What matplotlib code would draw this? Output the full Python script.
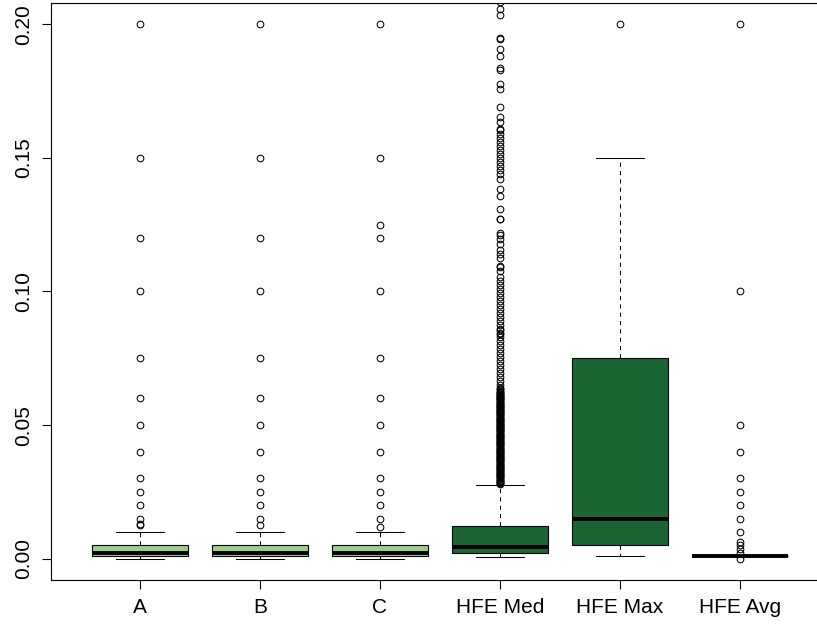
import matplotlib
matplotlib.use("Agg")
import matplotlib.pyplot as plt

plt.rcParams["font.family"] = ["Liberation Sans", "DejaVu Sans"]

# group names and their fill colours
labels = ["A", "B", "C", "HFE Med", "HFE Max", "HFE Avg"]
fills = ["#9fd08a", "#9fd08a", "#9fd08a", "#1b6535", "#1b6535", "#1b6535"]

# five-number summaries per group
whislo = [0.0, 0.0, 0.0, 0.0005, 0.001, 0.001]
q1 = [0.0008, 0.0008, 0.0008, 0.0021, 0.005, 0.001]
med = [0.002, 0.002, 0.002, 0.0044, 0.015, 0.001]
q3 = [0.005, 0.005, 0.005, 0.0124, 0.075, 0.001]
whishi = [0.01, 0.01, 0.01, 0.0275, 0.15, 0.001]

# outliers per group
out_a = [0.2, 0.15, 0.12, 0.1, 0.075, 0.06, 0.05, 0.04, 0.03, 0.025, 0.02,
         0.015, 0.013, 0.0125]
out_b = [0.2, 0.15, 0.12, 0.1, 0.075, 0.06, 0.05, 0.04, 0.03, 0.025, 0.02,
         0.015, 0.0125]
out_c = [0.2, 0.15, 0.125, 0.12, 0.1, 0.075, 0.06, 0.05, 0.04, 0.03, 0.025,
         0.02, 0.015, 0.012]
out_med = [
    0.2084, 0.2059, 0.2034, 0.1950, 0.1945, 0.1906, 0.1880, 0.1835, 0.1830,
    0.1775, 0.1757, 0.1689, 0.1655, 0.1633, 0.1607, 0.1603, 0.1588, 0.1573,
    0.1558, 0.1543, 0.1528, 0.1513, 0.1498, 0.1483, 0.1468, 0.1453, 0.1438,
    0.1423, 0.1382, 0.1356, 0.1307, 0.1273, 0.1270, 0.1220, 0.1213, 0.1195,
    0.1176, 0.1157, 0.1139, 0.1127, 0.1094, 0.1090, 0.1075, 0.1056, 0.1040,
    0.1025, 0.1010, 0.0995, 0.0980, 0.0965, 0.0950, 0.0935, 0.0920, 0.0905,
    0.0890, 0.0875, 0.0860, 0.0855, 0.0845, 0.0842, 0.0830, 0.0815, 0.0800,
    0.0785, 0.0770, 0.0755, 0.0740, 0.0725, 0.0710, 0.0695, 0.0680, 0.0665,
    0.0650, 0.0640, 0.0635, 0.0632, 0.0625, 0.0620, 0.0616, 0.0612, 0.0608,
    0.0604, 0.0600, 0.0596, 0.0592, 0.0588, 0.0584, 0.0580, 0.0576, 0.0572,
    0.0568, 0.0564, 0.0560, 0.0556, 0.0552, 0.0548, 0.0544, 0.0540, 0.0536,
    0.0532, 0.0528, 0.0524, 0.0520, 0.0516, 0.0512, 0.0508, 0.0504, 0.0500,
    0.0496, 0.0492, 0.0488, 0.0484, 0.0480, 0.0476, 0.0472, 0.0468, 0.0464,
    0.0460, 0.0456, 0.0452, 0.0448, 0.0444, 0.0440, 0.0436, 0.0432, 0.0428,
    0.0424, 0.0420, 0.0416, 0.0412, 0.0408, 0.0404, 0.0400, 0.0396, 0.0392,
    0.0388, 0.0384, 0.0380, 0.0376, 0.0372, 0.0368, 0.0364, 0.0360, 0.0356,
    0.0352, 0.0348, 0.0344, 0.0340, 0.0336, 0.0332, 0.0328, 0.0324, 0.0320,
    0.0316, 0.0312, 0.0308, 0.0304, 0.0300, 0.0296, 0.0292, 0.0288, 0.0284,
    0.0280,
    # repeated readings in the densest stretch
    0.0498, 0.0490, 0.0482, 0.0474, 0.0466, 0.0458, 0.0450, 0.0442, 0.0434,
    0.0426, 0.0418, 0.0410, 0.0402, 0.0394, 0.0386, 0.0378, 0.0370, 0.0362,
    0.0354, 0.0346, 0.0338, 0.0330, 0.0322, 0.0314, 0.0306, 0.0298, 0.0290,
    0.0282, 0.0598, 0.0590, 0.0582, 0.0574, 0.0566, 0.0558, 0.0550, 0.0542,
    0.0534, 0.0526, 0.0518, 0.0510, 0.0502, 0.0622, 0.0614, 0.0606,
]
out_max = [0.2]
out_avg = [0.2, 0.1, 0.05, 0.04, 0.03, 0.025, 0.02, 0.015, 0.01, 0.0063,
           0.005, 0.0037, 0.0021, 0.0]
outliers = [out_a, out_b, out_c, out_med, out_max, out_avg]

y_ticks = [0.0, 0.05, 0.10, 0.15, 0.20]
y_tick_labels = ["0.00", "0.05", "0.10", "0.15", "0.20"]

stats = []
for i in range(len(labels)):
    stats.append({"label": labels[i], "whislo": whislo[i], "q1": q1[i],
                  "med": med[i], "q3": q3[i], "whishi": whishi[i],
                  "fliers": outliers[i]})

fig = plt.figure(figsize=(8.17, 6.25), dpi=100)
# frame runs past the right edge of the canvas
ax = fig.add_axes([0.0624, 0.072, 0.9518, 0.9232])

parts = ax.bxp(stats,
               positions=range(1, len(labels) + 1),
               widths=0.8,
               patch_artist=True,
               boxprops=dict(edgecolor="black", linewidth=0.8),
               medianprops=dict(color="black", linewidth=2.8, solid_capstyle="butt"),
               whiskerprops=dict(color="black", linewidth=0.75, linestyle=(0, (4, 4))),
               capprops=dict(color="black", linewidth=0.75),
               capwidths=0.4,
               flierprops=dict(marker="o", markerfacecolor="none",
                               markeredgecolor="black", markersize=4.8,
                               markeredgewidth=0.75))
for box, c in zip(parts["boxes"], fills):
    box.set_facecolor(c)

ax.set_xlim(0.26, 6.74)
ax.set_ylim(-0.008, 0.208)
ax.set_xticks(range(1, len(labels) + 1))
ax.set_xticklabels(labels, fontsize=15)
ax.set_yticks(y_ticks)
ax.set_yticklabels(y_tick_labels, fontsize=15, rotation=90, va="center")
ax.tick_params(direction="out", length=6.5, width=0.8, pad=6.5, color="black")
for s in ax.spines.values():
    s.set_linewidth(0.8)

fig.savefig("out.png", dpi=100)
plt.close(fig)
